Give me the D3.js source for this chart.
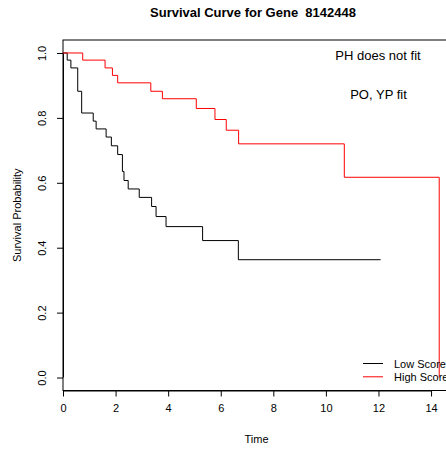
<!DOCTYPE html>
<html>
<head>
<meta charset="utf-8">
<script src="https://cdn.jsdelivr.net/npm/d3@7"></script>
<style>
  body { margin: 0; background: #fff; }
  svg { font-family: "Liberation Sans", Arial, sans-serif; }
</style>
</head>
<body>
<div id="chart"></div>
<script>
// Kaplan-Meier steps
const lowTime  = [0, 0.16, 0.30, 0.56, 0.71, 1.15, 1.26, 1.64, 1.84, 2.08, 2.26, 2.32, 2.48, 2.90, 3.37, 3.54, 3.92, 5.31, 6.67, 12.08];
const lowSurv  = [1, 0.978, 0.954, 0.882, 0.815, 0.790, 0.766, 0.741, 0.714, 0.687, 0.635, 0.607, 0.581, 0.555, 0.527, 0.496, 0.465, 0.422, 0.363, 0.363];
const highTime = [0, 0.75, 1.60, 1.88, 2.08, 3.34, 3.78, 5.07, 5.78, 6.21, 6.68, 10.70, 14.31];
const highSurv = [1, 0.978, 0.954, 0.931, 0.908, 0.882, 0.859, 0.829, 0.795, 0.762, 0.720, 0.617, 0];
const xTicks = [0, 2, 4, 6, 8, 10, 12, 14];
const yTicks = [0, 0.2, 0.4, 0.6, 0.8, 1.0];
const groups = ["Low Score", "High Score"];
const colors = ["#000000", "#ff0000"];

const W = 446, H = 449;
const margin = {top: 40, left: 63, bottom: 58.5};
const plotRight = 462;   // box runs past the image edge, as in the original
const height = H - margin.top - margin.bottom;

const svg = d3.select("#chart").append("svg")
    .attr("width", W)
    .attr("height", H);

const x = d3.scaleLinear()
    .domain([0, 14])
    .range([margin.left, margin.left + 26.29 * 14]);

const y = d3.scaleLinear()
    .domain([-0.04, 1.04])
    .range([margin.top + height, margin.top]);

// box
svg.append("rect")
    .attr("x", margin.left)
    .attr("y", margin.top)
    .attr("width", plotRight - margin.left)
    .attr("height", height)
    .attr("fill", "none")
    .attr("stroke", "#000")
    .attr("stroke-width", 1);

const xAxis = svg.append("g")
    .attr("transform", `translate(0,${margin.top + height})`)
    .call(d3.axisBottom(x).tickValues(xTicks).tickSize(6).tickPadding(8).tickFormat(d3.format("d")));

const yAxis = svg.append("g")
    .attr("transform", `translate(${margin.left},0)`)
    .call(d3.axisLeft(y).tickValues(yTicks).tickSize(6).tickFormat(d3.format(".1f")));

[xAxis, yAxis].forEach(a => {
    a.select(".domain").attr("stroke", "#000");
    a.selectAll(".tick line").attr("stroke", "#000");
    a.selectAll(".tick text")
        .attr("fill", "#000")
        .style("font-size", "11px")
        .style("font-family", "Liberation Sans, Arial, sans-serif");
});
xAxis.select(".domain").attr("d", `M${x(0)},0.5H${x(14)}`);
yAxis.select(".domain").attr("d", `M0.5,${y(0)}V${y(1)}`);

// y tick labels are rotated, like R's default las=0
yAxis.selectAll(".tick text")
    .attr("x", null).attr("dy", null)
    .attr("transform", "translate(-17,0) rotate(-90)")
    .attr("text-anchor", "middle");

// curves
const line = d3.line()
    .x(d => x(d[0]))
    .y(d => y(d[1]))
    .curve(d3.curveStepAfter);

const series = [
    d3.zip(lowTime, lowSurv),
    d3.zip(highTime, highSurv)
];

svg.selectAll(".km")
    .data(series)
    .enter().append("path")
    .attr("class", "km")
    .attr("d", line)
    .attr("fill", "none")
    .attr("stroke", (d, i) => colors[i])
    .attr("stroke-width", 1);

// titles
svg.append("text")
    .attr("x", 253)
    .attr("y", 17)
    .attr("text-anchor", "middle")
    .style("white-space", "pre")
    .style("font-weight", "bold")
    .style("font-size", "13px")
    .text("Survival Curve for Gene  8142448");

svg.append("text")
    .attr("x", (margin.left + plotRight) / 2 - 6)
    .attr("y", 443)
    .attr("text-anchor", "middle")
    .style("font-size", "11px")
    .text("Time");

svg.append("text")
    .attr("transform", `translate(21,${y(0.5)}) rotate(-90)`)
    .attr("text-anchor", "middle")
    .style("font-size", "11px")
    .text("Survival Probability");

// annotations
svg.append("text")
    .attr("x", 378)
    .attr("y", 60)
    .attr("text-anchor", "middle")
    .style("font-size", "13px")
    .text("PH does not fit");

svg.append("text")
    .attr("x", 378.5)
    .attr("y", 99)
    .attr("text-anchor", "middle")
    .style("font-size", "13px")
    .text("PO, YP fit");

// legend
const legend = svg.append("g")
    .selectAll("g")
    .data(groups)
    .enter().append("g")
    .attr("transform", (d, i) => `translate(363,${363.5 + i * 13.3})`);

legend.append("line")
    .attr("x1", 0).attr("x2", 20)
    .attr("stroke", (d, i) => colors[i])
    .attr("stroke-width", 1);

legend.append("text")
    .attr("x", 31)
    .attr("y", 4)
    .style("font-size", "11px")
    .text(d => d);
</script>
</body>
</html>
